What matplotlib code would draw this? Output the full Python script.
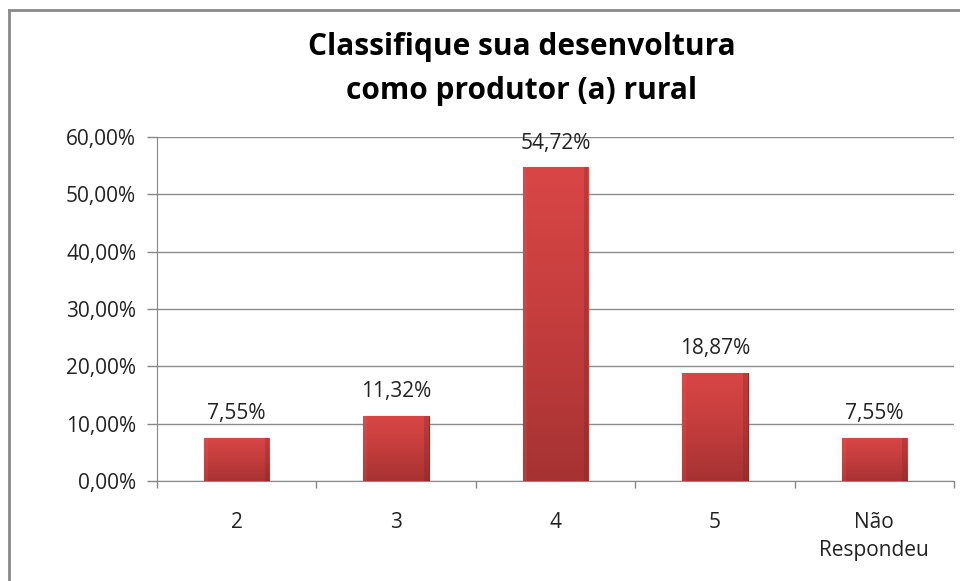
import numpy as np
import matplotlib.pyplot as plt
from matplotlib.lines import Line2D
from matplotlib.colors import LinearSegmentedColormap

categories = ["2", "3", "4", "5", "Não\nRespondeu"]
values = [7.55, 11.32, 54.72, 18.87, 7.55]
labels = ["7,55%", "11,32%", "54,72%", "18,87%", "7,55%"]
yticks = [0, 10, 20, 30, 40, 50, 60]
ytick_labels = ["0,00%", "10,00%", "20,00%", "30,00%", "40,00%", "50,00%", "60,00%"]

plt.rcParams['font.family'] = ['Open Sans', 'DejaVu Sans']

fig = plt.figure(figsize=(9.6, 5.81), dpi=100)
ax = fig.add_axes([157 / 960, 1 - 481 / 581, (954 - 157) / 960, (481 - 137) / 581])

x = np.arange(len(categories))
bars = ax.bar(x, values, width=0.41, color="#C03A3A", edgecolor="#8E2A2A", linewidth=0.8, zorder=3)

# vertical gradient fill clipped to each bar
cmap = LinearSegmentedColormap.from_list("redgrad", ["#A63232", "#C43D3D", "#D94646"])
grad = np.linspace(0, 1, 256).reshape(-1, 1)
for b in bars:
    x0, y0 = b.get_x(), b.get_y()
    w, h = b.get_width(), b.get_height()
    im = ax.imshow(grad, extent=(x0, x0 + w, y0, y0 + h), origin="lower", cmap=cmap,
                   aspect="auto", zorder=3.5)
    im.set_clip_path(b)
    # darker side strips for a bevel look
    ax.add_patch(plt.Rectangle((x0 + w * 0.93, y0), w * 0.07, h, color="#7E2424", alpha=0.3,
                               zorder=3.6, lw=0, clip_path=b))
    ax.add_patch(plt.Rectangle((x0, y0), w * 0.06, h, color="#E86060", alpha=0.2,
                               zorder=3.6, lw=0, clip_path=b))

for xi, v, lab in zip(x, values, labels):
    ax.text(xi, v + 2.4, lab, ha="center", va="bottom", fontsize=15, color="#222222", zorder=5)

ax.set_xlim(-0.5, len(categories) - 0.5)
ax.set_ylim(0, 60)
ax.set_yticks(yticks)
ax.set_yticklabels(ytick_labels, fontsize=15, color="#222222")
ax.set_xticks(x)
ax.set_xticklabels(categories, fontsize=15, color="#222222", linespacing=1.45)
ax.set_xticks(np.arange(-0.5, len(categories), 1), minor=True)
ax.tick_params(axis="x", which="major", length=0, pad=22)
ax.tick_params(axis="x", which="minor", length=5, color="#888888", width=1)
ax.tick_params(axis="y", length=7, color="#888888", width=1, pad=8)

ax.grid(axis="y", color="#8C8C8C", linewidth=1, zorder=0)
for s in ["top", "right"]:
    ax.spines[s].set_visible(False)
ax.spines["left"].set_color("#888888")
ax.spines["bottom"].set_color("#888888")

fig.text(522 / 960, 1 - 69 / 581, "Classifique sua desenvoltura\ncomo produtor (a) rural",
         ha="center", va="center", fontsize=21.5, fontweight="bold", color="#000000",
         linespacing=1.6)

# chart-area border (top and left visible)
fig.add_artist(Line2D([9 / 960, 1.0], [1 - 10 / 581, 1 - 10 / 581], color="#8A8A8A", lw=2))
fig.add_artist(Line2D([9 / 960, 9 / 960], [0, 1 - 10 / 581], color="#8A8A8A", lw=2))

fig.savefig("out.png", dpi=100)
